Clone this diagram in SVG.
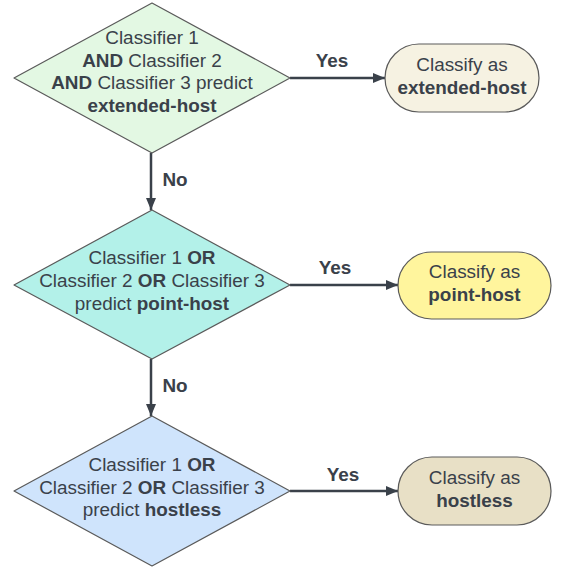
<svg xmlns="http://www.w3.org/2000/svg" width="566" height="571" viewBox="0 0 566 571">
<defs>
<marker id="ah" viewBox="0 0 12 10" refX="12" refY="5" markerWidth="12" markerHeight="10" markerUnits="userSpaceOnUse" orient="auto">
<path d="M0,0 L12,5 L0,10 Z" fill="#3a414a"/>
</marker>
</defs>
<style>
text{font-family:"Liberation Sans",Arial,sans-serif;font-size:18.9px;fill:#3a414a;text-anchor:middle}
.b{font-weight:bold}
.shape{stroke:#5a5a5a;stroke-width:1.2;stroke-linejoin:round}
.conn{stroke:#3a414a;stroke-width:2.5;fill:none;marker-end:url(#ah)}
</style>
<rect width="566" height="571" fill="#ffffff"/>
<g id="connectors">
<line class="conn" x1="290" y1="78" x2="385" y2="78"/>
<line class="conn" x1="151" y1="153" x2="151" y2="210"/>
<line class="conn" x1="290" y1="285" x2="398" y2="285"/>
<line class="conn" x1="151" y1="359" x2="151" y2="416"/>
<line class="conn" x1="290" y1="491" x2="398" y2="491"/>
<text class="b" x="332" y="67">Yes</text>
<text class="b" x="175" y="186">No</text>
<text class="b" x="335" y="274">Yes</text>
<text class="b" x="175" y="392">No</text>
<text class="b" x="343" y="481">Yes</text>
</g>
<g id="decision1">
<polygon class="shape" fill="#e3f8e3" points="152,3 290,78 152,153 14,78"/>
<text x="152" y="44">Classifier 1</text>
<text x="152" y="66.5"><tspan class="b">AND</tspan> Classifier 2</text>
<text x="152" y="89"><tspan class="b">AND</tspan> Classifier 3 predict</text>
<text class="b" x="152" y="111.5">extended-host</text>
</g>
<g id="terminal1">
<rect class="shape" fill="#f6f2e2" x="385" y="44" width="154" height="68" rx="34"/>
<text x="462" y="71">Classify as</text>
<text class="b" x="462" y="94">extended-host</text>
</g>
<g id="decision2">
<polygon class="shape" fill="#b3f1e9" points="152,210 290,285 152,359 14,285"/>
<text x="152" y="264">Classifier 1 <tspan class="b">OR</tspan></text>
<text x="152" y="287">Classifier 2 <tspan class="b">OR</tspan> Classifier 3</text>
<text x="152" y="309.5">predict <tspan class="b">point-host</tspan></text>
</g>
<g id="terminal2">
<rect class="shape" fill="#fff59d" x="398" y="252" width="153" height="67" rx="33.5"/>
<text x="474.5" y="278">Classify as</text>
<text class="b" x="474.5" y="301">point-host</text>
</g>
<g id="decision3">
<polygon class="shape" fill="#cfe4fc" points="152,416 290,491 152,566 14,491"/>
<text x="152" y="471">Classifier 1 <tspan class="b">OR</tspan></text>
<text x="152" y="493.5">Classifier 2 <tspan class="b">OR</tspan> Classifier 3</text>
<text x="152" y="516">predict <tspan class="b">hostless</tspan></text>
</g>
<g id="terminal3">
<rect class="shape" fill="#e8e0c6" x="398" y="457" width="153" height="68" rx="34"/>
<text x="474.5" y="484">Classify as</text>
<text class="b" x="474.5" y="507">hostless</text>
</g>
</svg>
